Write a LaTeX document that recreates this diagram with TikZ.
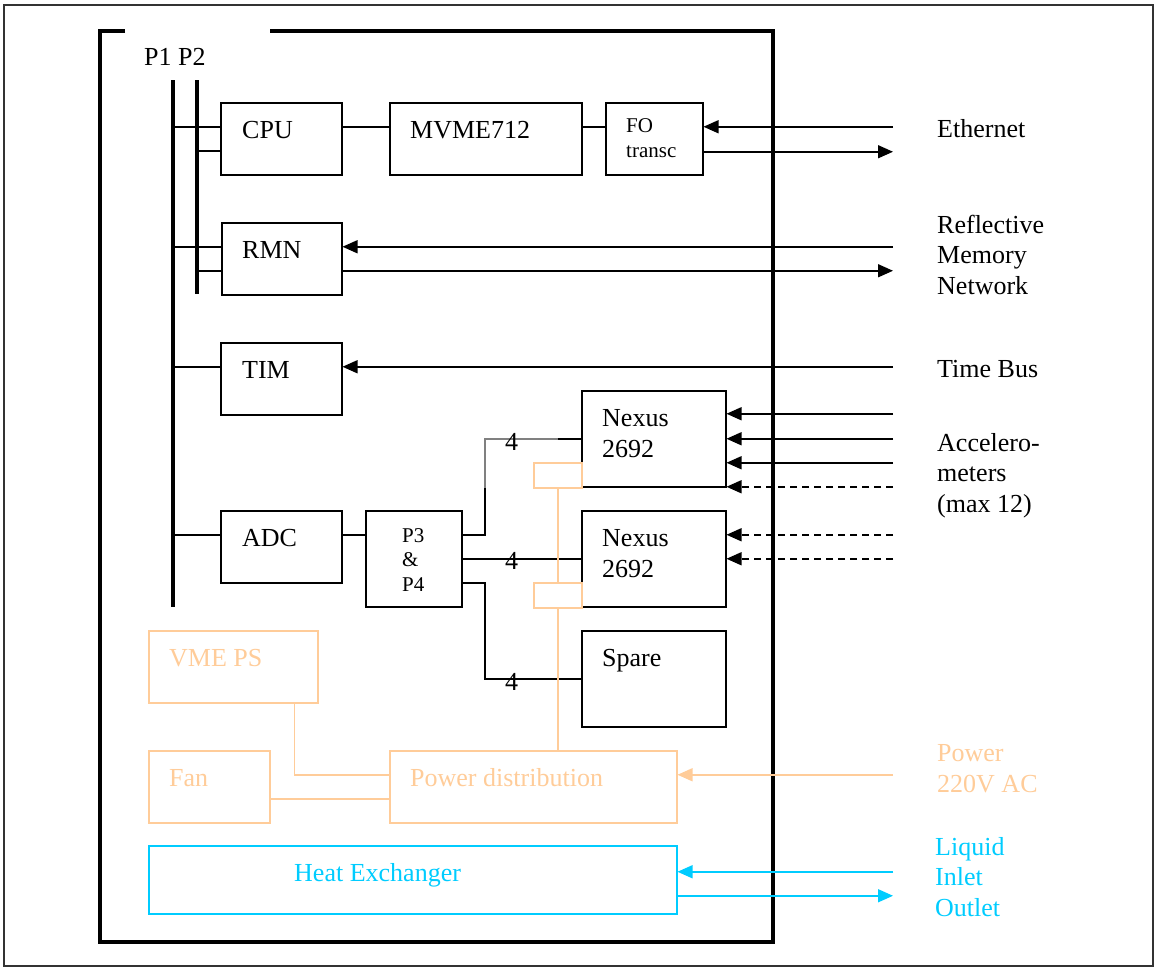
\documentclass[tikz,border=0pt]{standalone}
\usepackage{fontspec}
\setmainfont{Liberation Serif}
\usetikzlibrary{arrows.meta}

\definecolor{pwr}{RGB}{255,204,153}
\definecolor{liq}{RGB}{0,204,255}

\newcommand{\lbfont}{\fontsize{26}{30.5}\selectfont}
\newcommand{\smfont}{\fontsize{21}{24.5}\selectfont}

\tikzset{
  blk/.style={draw, line width=1.5pt, inner sep=0pt, anchor=north west},
  pblk/.style={blk, draw=pwr},
  lblk/.style={blk, draw=liq},
  txt/.style={anchor=base west, inner sep=0pt, font=\lbfont, align=left},
  ln/.style={line width=1.5pt},
  arr/.style={ln, -{Triangle[length=15pt,width=13pt]}},
  dsh/.style={arr, dash pattern=on 7pt off 5pt},
  bus/.style={line width=4pt}
}

\begin{document}
\begin{tikzpicture}[x=1pt, y=-1pt]
    \useasboundingbox (0,0) rectangle (1155,967);
    % outer frame and crate
    \draw[black!80, line width=1.2pt] (4,5) rectangle (1153,966);
    \draw[line width=4pt, line join=miter] (125,31) -- (100,31) -- (100,942) -- (773,942) -- (773,31) -- (270,31);

    % backplane busses
    \coordinate (p1t) at (173,80);
    \coordinate (p1b) at (173,607);
    \coordinate (p2t) at (197,80);
    \coordinate (p2b) at (197,294);
    \draw[bus] (p1t) -- (p1b);
    \draw[bus] (p2t) -- (p2b);
    \node[txt] (pbus) at (144,65) {P1 P2};

    % boards
    \node[blk, minimum width=121pt, minimum height=72pt] (cpu) at (220,102) {};
    \node[blk, minimum width=192pt, minimum height=72pt] (mvme) at (389,102) {};
    \node[blk, minimum width=97pt, minimum height=72pt] (fo) at (605,102) {};
    \node[blk, minimum width=120pt, minimum height=72pt] (rmn) at (221,222) {};
    \node[blk, minimum width=121pt, minimum height=72pt] (tim) at (220,342) {};
    \node[blk, minimum width=121pt, minimum height=72pt] (adc) at (220,510) {};
    \node[blk, minimum width=96pt, minimum height=96pt] (p3) at (365,510) {};
    \node[blk, minimum width=144pt, minimum height=96pt] (nx1) at (581,390) {};
    \node[blk, minimum width=144pt, minimum height=96pt] (nx2) at (581,510) {};
    \node[blk, minimum width=144pt, minimum height=96pt] (spare) at (581,630) {};

    % power and cooling
    \node[pblk, minimum width=169pt, minimum height=72pt] (vme) at (148,630) {};
    \node[pblk, minimum width=121pt, minimum height=72pt] (fan) at (148,750) {};
    \node[pblk, minimum width=287pt, minimum height=72pt] (pd) at (389,750) {};
    \node[pblk, minimum width=48pt, minimum height=25pt] (tapA) at (533,462) {};
    \node[pblk, minimum width=48pt, minimum height=25pt] (tapB) at (533,582) {};
    \node[lblk, minimum width=528pt, minimum height=68pt] (hx) at (148,845) {};

    % box texts (base = last line)
    \node[txt] (cputxt) at (242,138) {CPU};
    \node[txt] (mvmetxt) at (410,138) {MVME712};
    \node[txt, font=\smfont] (fotxt) at (626,157) {FO\\transc};
    \node[txt] (rmntxt) at (242,258) {RMN};
    \node[txt] (timtxt) at (242,378) {TIM};
    \node[txt] (adctxt) at (242,546) {ADC};
    \node[txt, font=\smfont] (p3txt) at (402,591) {P3\\\&\\P4};
    \node[txt] (nx1txt) at (602,457) {Nexus\\2692};
    \node[txt] (nx2txt) at (602,577) {Nexus\\2692};
    \node[txt] (sparetxt) at (602,666) {Spare};
    \node[txt, text=pwr] (vmetxt) at (169,666) {VME PS};
    \node[txt, text=pwr] (fantxt) at (169,786) {Fan};
    \node[txt, text=pwr] (pdtxt) at (410,786) {Power distribution};
    \node[txt, text=liq] (hxtxt) at (294,881) {Heat Exchanger};

    % bus connections
    \coordinate (cpuA) at ([yshift=12pt]cpu.west);
    \coordinate (cpuB) at ([yshift=-12pt]cpu.west);
    \coordinate (rmnA) at ([yshift=12pt]rmn.west);
    \coordinate (rmnB) at ([yshift=-12pt]rmn.west);
    \coordinate (timA) at ([yshift=12pt]tim.west);
    \coordinate (adcA) at ([yshift=12pt]adc.west);
    \draw[ln] (p1t |- cpuA) -- (cpuA);
    \draw[ln] (p2t |- cpuB) -- (cpuB);
    \draw[ln] (p1t |- rmnA) -- (rmnA);
    \draw[ln] (p2t |- rmnB) -- (rmnB);
    \draw[ln] (p1t |- timA) -- (timA);
    \draw[ln] (p1t |- adcA) -- (adcA);
    \draw[ln] (cpuA -| cpu.east) -- (cpuA -| mvme.west);
    \draw[ln] (cpuA -| mvme.east) -- (cpuA -| fo.west);
    \draw[ln] (adcA -| adc.east) -- (adcA -| p3.west);

    % P3/P4 cables
    \coordinate (jx) at (485,0);
    \coordinate (p3A) at ([yshift=24pt]p3.east);
    \coordinate (p3C) at ([yshift=-24pt]p3.east);
    \draw[ln] (p3A) -| (jx |- nx1.south);
    \draw[ln, draw=gray] (jx |- nx1.south) |- (tapA.north |- nx1.west);
    \draw[ln] (tapA.north |- nx1.west) -- (nx1.west);
    \draw[ln] (p3.east) -- (nx2.west);
    \draw[ln] (p3C) -| (jx |- spare.west) -- (spare.west);
    \node[txt] (n4a) at (505,450) {4};
    \node[txt] (n4b) at (505,569) {4};
    \node[txt] (n4c) at (505,690) {4};

    % power wiring
    \coordinate (vmeB) at ([xshift=-24pt]vme.south east);
    \coordinate (pdA) at ([yshift=12pt]pd.west);
    \coordinate (pdB) at ([yshift=-12pt]pd.west);
    \coordinate (pdC) at ([yshift=12pt]pd.east);
    \draw[ln, pwr] (vmeB) |- (pdA);
    \draw[ln, pwr] (pdB -| fan.east) -- (pdB);
    \draw[ln, pwr] (tapA.south) -- (tapB.north);
    \draw[ln, pwr] (tapB.south) -- (tapB.south |- pd.north);

    % external links
    \coordinate (ext) at (893,0);
    \coordinate (foA) at ([yshift=12pt]fo.east);
    \coordinate (foB) at ([yshift=-13pt]fo.east);
    \coordinate (rmnC) at ([yshift=12pt]rmn.east);
    \coordinate (rmnD) at ([yshift=-12pt]rmn.east);
    \coordinate (timC) at ([yshift=12pt]tim.east);
    \draw[arr] (ext |- foA) -- (foA);
    \draw[arr] (foB) -- (ext |- foB);
    \draw[arr] (ext |- rmnC) -- (rmnC);
    \draw[arr] (rmnD) -- (ext |- rmnD);
    \draw[arr] (ext |- timC) -- (timC);
    \foreach \dy/\n in {25/a, 0/b, -24/c, -48/d} {
      \coordinate (nx1\n) at ([yshift=\dy pt]nx1.east);
    }
    \foreach \n in {a, b, c} {
      \draw[arr] (ext |- nx1\n) -- (nx1\n);
    }
    \draw[dsh] (ext |- nx1d) -- (nx1d);
    \foreach \dy/\n in {24/a, 0/b} {
      \coordinate (nx2\n) at ([yshift=\dy pt]nx2.east);
      \draw[dsh] (ext |- nx2\n) -- (nx2\n);
    }
    \draw[arr, pwr] (ext |- pdC) -- (pdC);
    \coordinate (hxA) at ([yshift=8pt]hx.east);
    \coordinate (hxB) at ([yshift=-16pt]hx.east);
    \draw[arr, liq] (ext |- hxA) -- (hxA);
    \draw[arr, liq] (hxB) -- (ext |- hxB);

    % right hand labels (base = last line)
    \node[txt] (ethlbl) at (937,137) {Ethernet};
    \node[txt] (rmnlbl) at (937,294) {Reflective\\Memory\\Network};
    \node[txt] (timlbl) at (937,377) {Time Bus};
    \node[txt] (acclbl) at (937,512) {Accelero-\\meters\\(max 12)};
    \node[txt, text=pwr] (pwrlbl) at (937,792) {Power\\220V AC};
    \node[txt, text=liq] (liqlbl) at (935,916) {Liquid\\Inlet\\Outlet};
\end{tikzpicture}
\end{document}
